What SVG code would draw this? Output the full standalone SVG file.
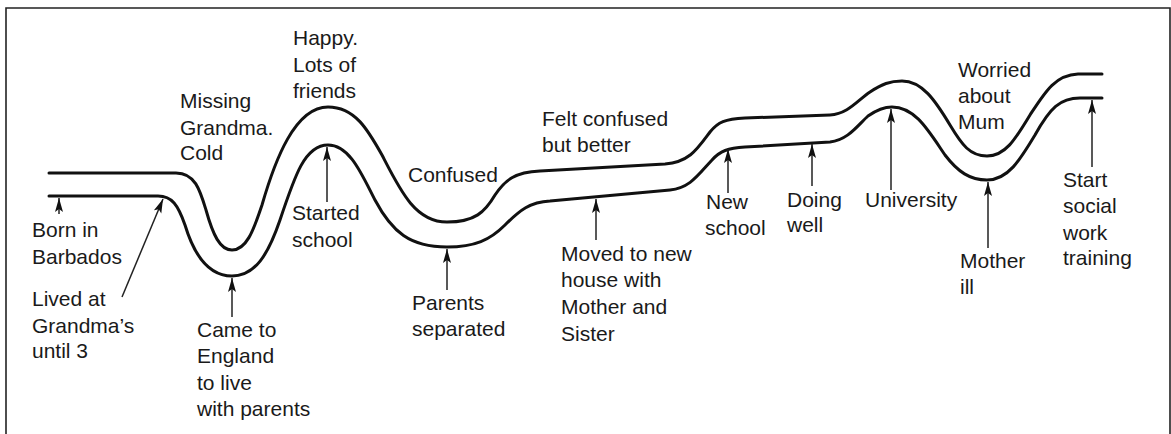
<svg xmlns="http://www.w3.org/2000/svg" width="1171" height="434" viewBox="0 0 1171 434">
<style>
.frame{fill:none;stroke:#222;stroke-width:1.6}
.road{fill:none;stroke:#111;stroke-width:3;stroke-linecap:round;stroke-linejoin:round}
.arr{stroke:#222;stroke-width:1.5;marker-end:url(#ah)}
text{font-family:"Liberation Sans",Arial,sans-serif;font-size:21px;fill:#1a1a1a}
</style>
<defs>
<marker id="ah" viewBox="0 0 14 10" refX="14" refY="5" markerWidth="14" markerHeight="10" markerUnits="userSpaceOnUse" orient="auto">
<path d="M0,1 L14,5 L0,9 L3,5 Z" fill="#111"/>
</marker>
</defs>
<rect width="1171" height="434" fill="#fff"/>
<path class="frame" d="M6,434 V8 H1170 V434"/>
<g id="road">
<path class="road" d="M49,173 H176 C195,173 200,190 206,210 C213,235 220,250 232,250 C246,250 253,232 262,205 C275,160 295,107 328,107 C355,107 368,130 382,155 C400,190 415,222 447,222 C475,222 485,212 495,195 C505,180 515,172 540,171 L665,164 C690,162 698,148 710,132 C718,122 725,119 745,118 L830,115 C848,114 858,100 870,92 C882,84 890,81 902,81 C922,81 935,100 950,125 C962,145 970,156 987,156 C1005,156 1015,140 1030,115 C1045,92 1055,75 1078,74 L1102,74"/>
<path class="road" d="M49,196 H158 C172,196 178,205 185,225 C195,258 210,276 232,276 C255,276 268,255 280,220 C295,175 305,145 328,145 C350,145 362,175 375,200 C392,232 410,247 447,247 C475,247 490,240 505,225 C520,210 530,202 550,201 L670,190 C690,188 698,175 712,160 C720,151 728,148 745,147 L830,142 C848,140 858,125 868,116 C878,109 885,107 892,107 C915,107 928,130 945,155 C958,172 970,180 987,180 C1008,180 1020,160 1035,135 C1050,108 1060,98 1080,98 L1102,98"/>
</g>
<g id="connectors">
<line class="arr" x1="59" y1="214" x2="59" y2="198"/>
<line class="arr" x1="122" y1="297" x2="163" y2="199"/>
<line class="arr" x1="232" y1="317" x2="232" y2="278"/>
<line class="arr" x1="327" y1="202" x2="327" y2="147"/>
<line class="arr" x1="447" y1="290" x2="447" y2="249"/>
<line class="arr" x1="596" y1="240" x2="596" y2="199"/>
<line class="arr" x1="728" y1="193" x2="728" y2="149"/>
<line class="arr" x1="812" y1="186" x2="812" y2="144"/>
<line class="arr" x1="891" y1="190" x2="891" y2="109"/>
<line class="arr" x1="988" y1="248" x2="988" y2="182"/>
<line class="arr" x1="1092" y1="167" x2="1092" y2="100"/>
</g>
<g id="n-happy"><text x="293" y="45">Happy.</text><text x="293" y="72">Lots of</text><text x="293" y="98">friends</text></g>
<g id="n-missing"><text x="180" y="108">Missing</text><text x="180" y="135">Grandma.</text><text x="180" y="160">Cold</text></g>
<g id="n-born"><text x="32" y="237">Born in</text><text x="32" y="264">Barbados</text></g>
<g id="n-lived"><text x="32" y="306">Lived at</text><text x="32" y="333">Grandma’s</text><text x="32" y="358">until 3</text></g>
<g id="n-came"><text x="197" y="337">Came to</text><text x="197" y="363">England</text><text x="197" y="390">to live</text><text x="197" y="416">with parents</text></g>
<g id="n-started"><text x="292" y="220">Started</text><text x="292" y="247">school</text></g>
<g id="n-confused"><text x="408" y="182">Confused</text></g>
<g id="n-felt"><text x="542" y="126">Felt confused</text><text x="542" y="152">but better</text></g>
<g id="n-parents"><text x="412" y="310">Parents</text><text x="412" y="336">separated</text></g>
<g id="n-moved"><text x="561" y="261">Moved to new</text><text x="561" y="287">house with</text><text x="561" y="314">Mother and</text><text x="561" y="341">Sister</text></g>
<g id="n-new"><text x="706" y="209">New</text><text x="705" y="235">school</text></g>
<g id="n-doing"><text x="787" y="207">Doing</text><text x="787" y="232">well</text></g>
<g id="n-uni"><text x="865" y="207">University</text></g>
<g id="n-mother"><text x="960" y="268">Mother</text><text x="960" y="294">ill</text></g>
<g id="n-start"><text x="1063" y="187">Start</text><text x="1063" y="213">social</text><text x="1063" y="240">work</text><text x="1063" y="265">training</text></g>
<g id="n-worried"><text x="958" y="77">Worried</text><text x="958" y="103">about</text><text x="958" y="129">Mum</text></g>
</svg>
